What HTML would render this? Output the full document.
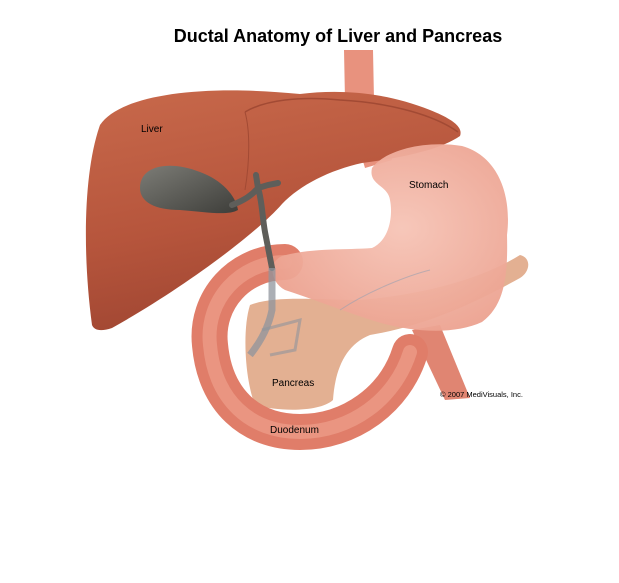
<!DOCTYPE html>
<html><head><meta charset="utf-8"><style>
html,body{margin:0;padding:0;background:#fff;}
svg{display:block}
text{font-family:"Liberation Sans",sans-serif;}
</style></head><body>
<svg width="619" height="583" viewBox="0 0 619 583" xmlns="http://www.w3.org/2000/svg">
<defs>
<linearGradient id="liv" x1="0" y1="0" x2="0.3" y2="1">
<stop offset="0" stop-color="#c8694b"/><stop offset="0.6" stop-color="#b6553c"/><stop offset="1" stop-color="#a04632"/></linearGradient>
<radialGradient id="sto" cx="0.55" cy="0.45" r="0.6"><stop offset="0" stop-color="#f6c4b6"/><stop offset="1" stop-color="#eca290"/></radialGradient>
<linearGradient id="gb" x1="0" y1="0" x2="1" y2="1"><stop offset="0" stop-color="#7c7c76"/><stop offset="1" stop-color="#3e3e3a"/></linearGradient>
</defs>
<text x="338" y="42" font-size="18" font-weight="bold" text-anchor="middle" fill="#000">Ductal Anatomy of Liver and Pancreas</text>
<path d="M412,330 L445,400 L470,398 L440,325 Z" fill="#e08572"/>
<path d="M344,50 L373,50 L374,100 L392,160 L365,168 L345,100 Z" fill="#e8927e"/>
<!-- liver -->
<path d="M92,325 C82,250 84,170 100,125 C120,95 200,84 300,94 C340,89 385,92 430,110 C455,120 463,128 460,136 C440,150 400,158 362,163 C330,170 300,185 282,204 C255,235 180,290 112,328 C100,332 94,330 92,325 Z" fill="url(#liv)"/>
<path d="M245,112 C265,100 300,96 340,100 C380,102 430,112 458,132" fill="none" stroke="#a24a34" stroke-width="1.5"/>
<path d="M245,112 C250,130 250,160 245,190" fill="none" stroke="#a24a34" stroke-width="1"/>
<!-- pancreas -->
<path d="M250,305 C275,295 320,300 360,300 C420,295 480,280 520,255 C532,258 530,272 520,278 C480,300 430,325 370,335 C345,345 335,370 333,400 C320,412 280,412 255,405 C245,380 242,330 250,305 Z" fill="#e3b092"/>
<!-- duodenum -->
<path d="M285,262 C240,262 205,300 210,345 C215,400 250,432 300,432 C350,432 395,400 410,352" fill="none" stroke="#e07d69" stroke-width="36" stroke-linecap="round"/>
<path d="M285,262 C240,262 205,300 210,345 C215,400 250,432 300,432 C350,432 395,400 410,352" fill="none" stroke="#eea08c" stroke-width="14" stroke-linecap="round" opacity="0.7"/>
<!-- stomach -->
<path d="M372,168 C385,150 425,140 462,146 C498,156 512,195 507,235 C508,275 505,305 482,322 C452,336 405,332 365,318 C335,308 310,298 285,290 C270,282 268,262 282,256 C310,248 345,250 372,248 C390,240 393,215 390,200 C388,185 368,185 372,168 Z" fill="url(#sto)" opacity="0.95"/>
<path d="M340,310 C370,290 410,275 430,270" fill="none" stroke="#9aa0b0" stroke-width="1" opacity="0.6"/>
<!-- gallbladder & ducts -->
<path d="M140,188 C140,165 170,160 200,172 C222,180 236,196 238,210 C228,216 205,212 180,210 C155,210 140,202 140,188 Z" fill="url(#gb)"/>
<path d="M232,205 C245,200 252,195 258,188 M258,188 C262,200 262,215 265,232 L272,268 M258,188 L268,185 L278,183 M258,188 L256,175" fill="none" stroke="#5e5e5a" stroke-width="6" stroke-linecap="round"/>
<path d="M272,268 L272,310 C268,330 258,345 250,355" fill="none" stroke="#8f949c" stroke-width="7" opacity="0.75"/>
<path d="M262,330 L300,320 L295,350 L270,355" fill="none" stroke="#8f949c" stroke-width="3" opacity="0.6"/>
<text x="141" y="132" font-size="10" fill="#000">Liver</text>
<text x="409" y="188" font-size="10" fill="#000">Stomach</text>
<text x="272" y="386" font-size="10" fill="#000">Pancreas</text>
<text x="270" y="433" font-size="10" fill="#000">Duodenum</text>
<text x="440" y="397" font-size="7.5" fill="#000">© 2007 MediVisuals, Inc.</text>
</svg>
</body></html>
